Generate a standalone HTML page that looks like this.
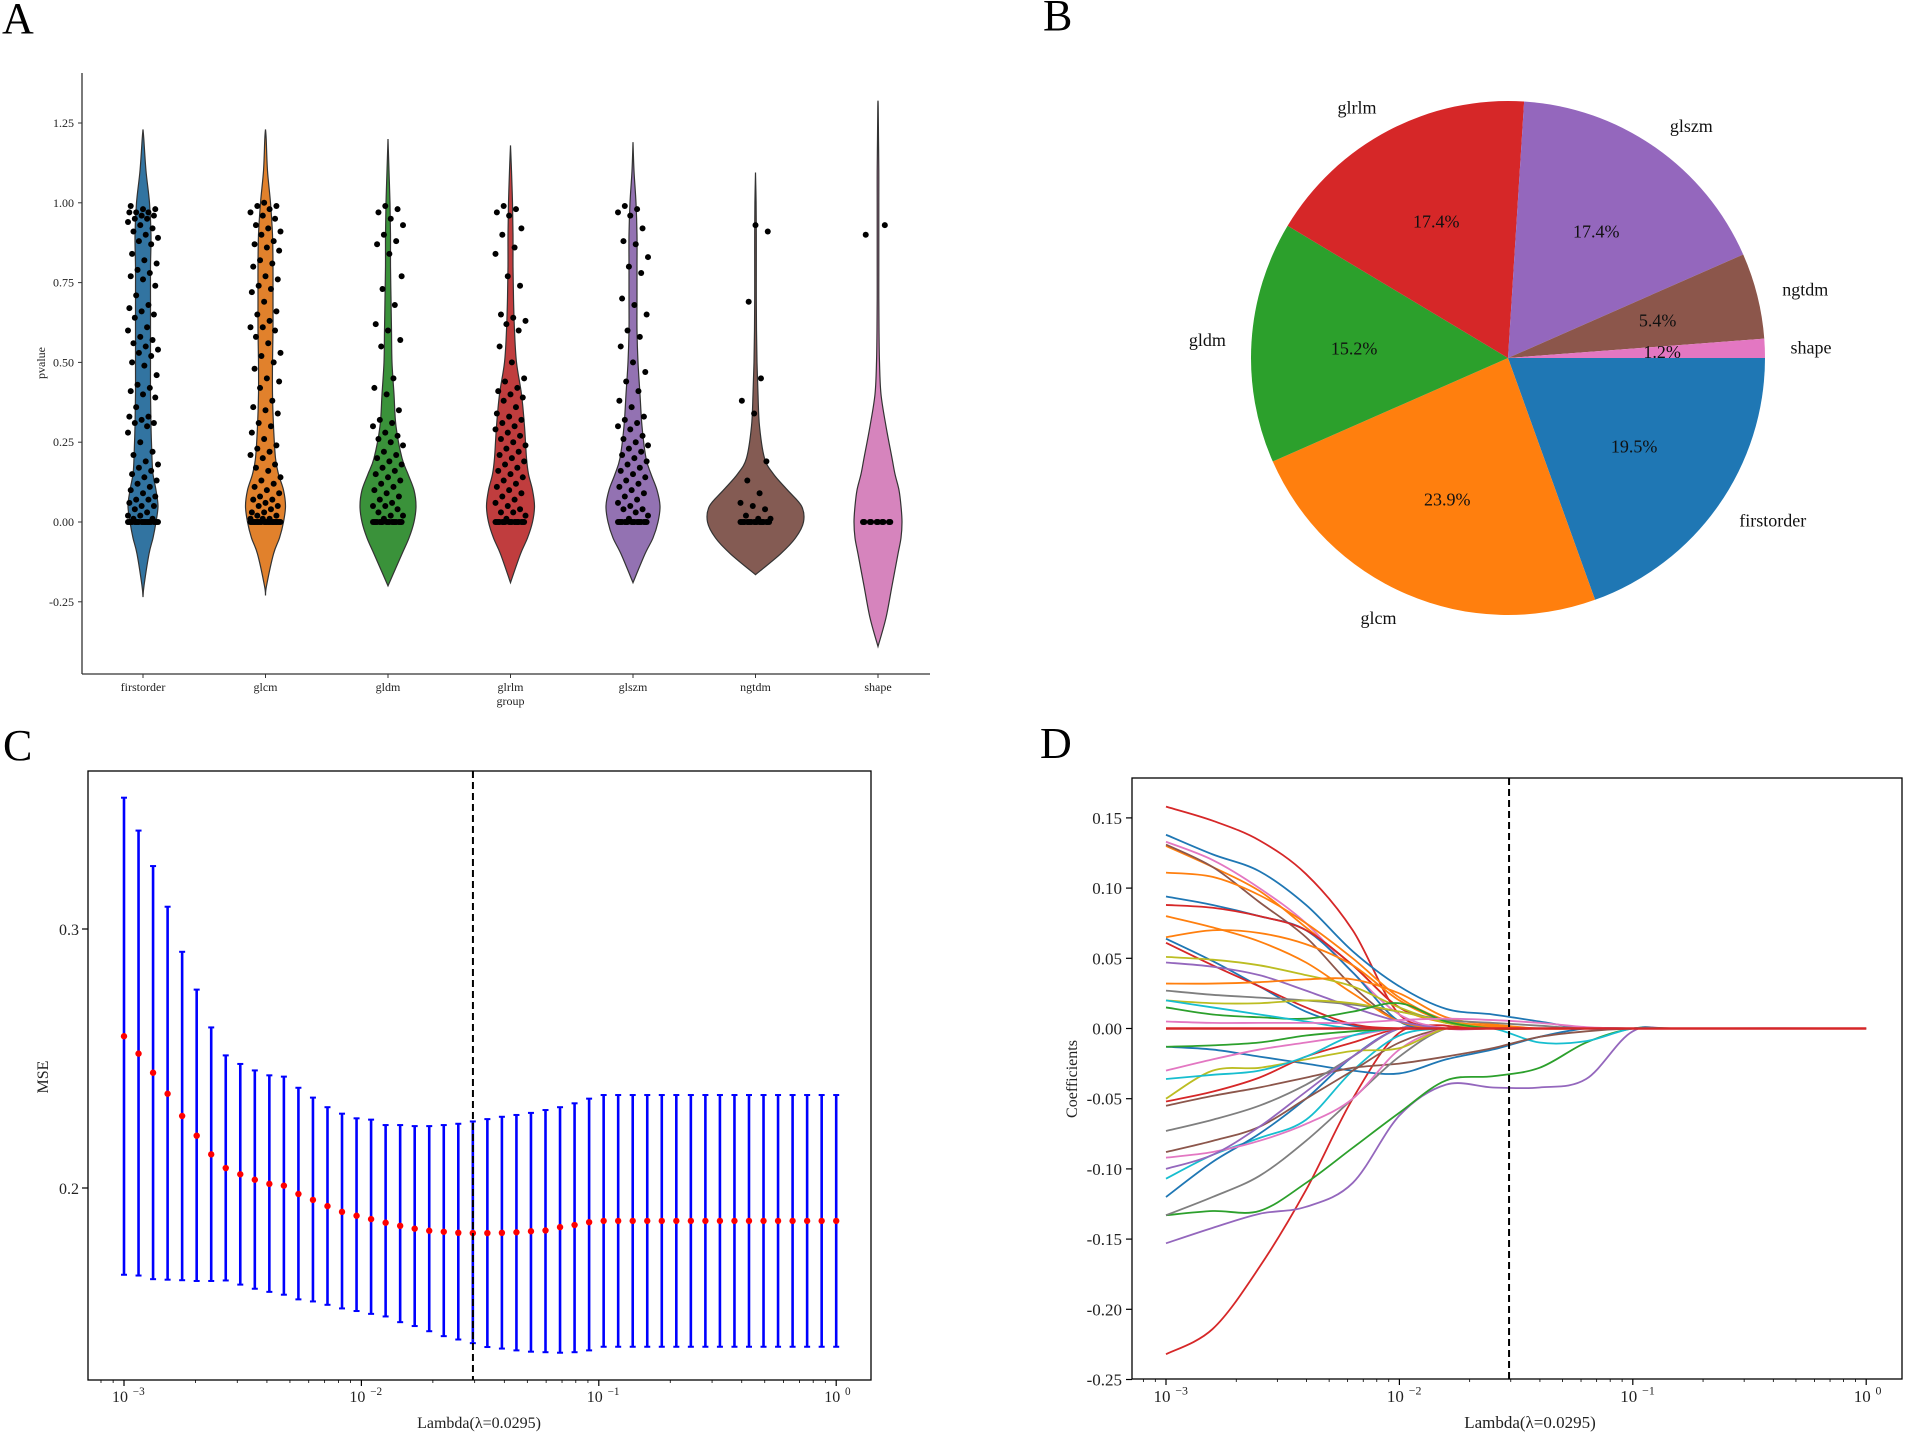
<!DOCTYPE html>
<html><head><meta charset="utf-8">
<style>
html,body{margin:0;padding:0;background:#fff;}
svg{display:block;font-family:"Liberation Serif",serif;}
</style></head>
<body>
<svg id="fig" width="1905" height="1434" viewBox="0 0 1905 1434" xmlns="http://www.w3.org/2000/svg">
<rect x="0" y="0" width="1905" height="1434" fill="#fff"/>
<text x="2" y="33" font-size="44">A</text>
<text x="1043" y="30" font-size="44">B</text>
<text x="3" y="760" font-size="44">C</text>
<text x="1040" y="758" font-size="44">D</text>
<g id="pa"></g>
<g id="pb"></g>
<g id="pc"></g>
<g id="pd"></g>
</svg>
<script>
// ---------- Panel A data ----------
const violinCats = ["firstorder","glcm","gldm","glrlm","glszm","ngtdm","shape"];
const violinColors = ["#3274a1","#e1812c","#3a923a","#c03d3e","#9372b2","#845b53","#d684bd"];
const densGrid = [-0.4,-0.3,-0.2,-0.1,-0.05,0,0.05,0.1,0.15,0.2,0.3,0.4,0.5,0.6,0.7,0.8,0.9,1.0,1.1,1.2,1.3];
const densFirstorder = [0,0,1,6,10,13,15,13,10,9,8,7.5,7.5,7.5,7.5,7.5,8,6.5,3,0.8,0];
const densGlcm = [0,0,1,8,14,18,20,18,13,10,8,7,7,7.5,7.5,7.5,7,5,2,0.7,0];
const densGldm = [0,0,0.5,14,21,26,28,26,20,14,8,6,4,3.5,3,2.5,2.5,2,1,0.3,0];
const densGlrlm = [0,0,0,10,17,22,24,22,18,16,14,11,6,4,3,2.5,2.5,2,1,0,0];
const densGlszm = [0,0,0,12,20,25,27,24,18,13,9,7,5,4,4,4,4,3,1,0,0];
const densNgtdm = [0,0,0,25,40,48,46,32,18,9,4,2.5,1.5,1,0.8,0.8,0.8,0.6,0.3,0,0];
const densShape = [0,8,14,20,23,24,23,21,17,14,8,3,1.5,1,0.8,0.8,0.8,0.8,0.8,0.5,0.2];
const violinLo = [-0.235,-0.23,-0.2,-0.19,-0.19,-0.165,-0.39];
const violinHi = [1.23,1.23,1.2,1.18,1.19,1.095,1.32];
const ptsFirstorder = [0,0,0,0,0,0,0,0,0,0,0,0,0,0,0,0,0,0,0,0,0.01,0.01,0.02,0.02,0.03,0.04,0.05,0.05,0.06,0.07,0.07,0.08,0.09,0.1,0.11,0.12,0.13,0.14,0.15,0.16,0.17,0.18,0.19,0.21,0.22,0.25,0.28,0.3,0.31,0.31,0.32,0.33,0.33,0.36,0.39,0.4,0.41,0.42,0.43,0.46,0.49,0.5,0.52,0.53,0.54,0.55,0.56,0.57,0.58,0.6,0.61,0.64,0.65,0.66,0.67,0.68,0.71,0.74,0.76,0.77,0.78,0.79,0.81,0.82,0.84,0.87,0.88,0.89,0.9,0.91,0.92,0.93,0.94,0.95,0.95,0.96,0.96,0.97,0.97,0.97,0.98,0.98,0.99];
const ptsGlcm = [0,0,0,0,0,0,0,0,0,0,0,0,0,0,0,0,0,0,0,0,0,0,0.01,0.01,0.01,0.02,0.02,0.03,0.03,0.04,0.05,0.05,0.06,0.07,0.07,0.08,0.09,0.1,0.11,0.12,0.13,0.14,0.16,0.17,0.18,0.2,0.21,0.22,0.23,0.24,0.26,0.28,0.3,0.31,0.34,0.35,0.36,0.38,0.42,0.44,0.45,0.48,0.5,0.52,0.53,0.56,0.58,0.6,0.61,0.61,0.63,0.65,0.66,0.69,0.72,0.73,0.74,0.76,0.77,0.8,0.81,0.82,0.85,0.86,0.87,0.88,0.9,0.91,0.92,0.93,0.95,0.96,0.97,0.98,0.99,0.99,1.0];
const ptsGldm = [0,0,0,0,0,0,0,0,0,0,0,0,0,0,0,0,0,0.01,0.02,0.02,0.03,0.04,0.05,0.05,0.06,0.07,0.08,0.09,0.1,0.11,0.12,0.13,0.14,0.15,0.16,0.17,0.18,0.19,0.2,0.21,0.22,0.24,0.25,0.26,0.27,0.28,0.3,0.31,0.32,0.35,0.4,0.42,0.45,0.55,0.57,0.6,0.62,0.68,0.73,0.77,0.84,0.87,0.88,0.9,0.93,0.95,0.97,0.98,0.99];
const ptsGlrlm = [0,0,0,0,0,0,0,0,0,0,0,0,0,0,0,0,0,0.01,0.02,0.03,0.03,0.04,0.05,0.06,0.07,0.08,0.09,0.1,0.11,0.12,0.13,0.14,0.15,0.16,0.17,0.18,0.19,0.2,0.21,0.22,0.23,0.24,0.25,0.26,0.27,0.28,0.29,0.3,0.31,0.32,0.33,0.34,0.36,0.38,0.39,0.4,0.41,0.42,0.44,0.45,0.5,0.55,0.6,0.62,0.63,0.64,0.65,0.74,0.77,0.84,0.86,0.9,0.92,0.96,0.97,0.98,0.99];
const ptsGlszm = [0,0,0,0,0,0,0,0,0,0,0,0,0,0,0,0,0,0.01,0.02,0.03,0.04,0.04,0.05,0.06,0.07,0.08,0.09,0.1,0.11,0.12,0.13,0.14,0.15,0.16,0.17,0.18,0.19,0.2,0.21,0.22,0.23,0.24,0.25,0.26,0.27,0.29,0.3,0.31,0.32,0.33,0.36,0.38,0.41,0.44,0.47,0.5,0.55,0.58,0.6,0.65,0.68,0.7,0.78,0.8,0.83,0.87,0.88,0.92,0.96,0.97,0.98,0.99];
const ptsNgtdm = [0,0,0,0,0,0,0,0,0,0,0,0,0,0,0,0,0,0,0.01,0.01,0.02,0.04,0.05,0.06,0.09,0.13,0.19,0.34,0.38,0.45,0.69,0.91,0.93];
const ptsShape = [0,0,0,0,0,0,0,0,0,0,0.9,0.93];
const yTicksA = [-0.25,0,0.25,0.5,0.75,1.0,1.25];
const yTickLabelsA = ["-0.25","0.00","0.25","0.50","0.75","1.00","1.25"];

// ---------- Panel B data ----------
const pieLabels = ["firstorder","glcm","gldm","glrlm","glszm","ngtdm","shape"];
const pieValues = [19.5,23.9,15.2,17.4,17.4,5.4,1.2];
const pieColors = ["#1f77b4","#ff7f0e","#2ca02c","#d62728","#9467bd","#8c564b","#e377c2"];

// ---------- Panel C data ----------
const mseMean = [0.2586,0.2519,0.2445,0.2364,0.2278,0.2202,0.2130,0.2077,0.2053,0.2032,0.2016,0.2009,0.1977,0.1954,0.1930,0.1908,0.1893,0.1880,0.1866,0.1854,0.1843,0.1835,0.1831,0.1827,0.1826,0.1826,0.1827,0.1829,0.1833,0.1836,0.1849,0.1857,0.1868,0.1873,0.1873,0.1873,0.1873,0.1873,0.1873,0.1873,0.1873,0.1873,0.1873,0.1873,0.1873,0.1873,0.1873,0.1873,0.1873,0.1873];
const mseUpper = [0.3507,0.3380,0.3243,0.3086,0.2912,0.2766,0.2620,0.2512,0.2479,0.2454,0.2435,0.2430,0.2387,0.2349,0.2312,0.2287,0.2269,0.2264,0.2243,0.2243,0.2239,0.2239,0.2243,0.2248,0.2257,0.2266,0.2275,0.2282,0.2290,0.2301,0.2312,0.2327,0.2345,0.2359,0.2359,0.2359,0.2359,0.2359,0.2359,0.2359,0.2359,0.2359,0.2359,0.2359,0.2359,0.2359,0.2359,0.2359,0.2359,0.2359];
const mseLower = [0.1665,0.1662,0.1648,0.1646,0.1644,0.1641,0.1641,0.1643,0.1627,0.1611,0.1599,0.1588,0.1570,0.1562,0.1549,0.1535,0.1525,0.1514,0.1504,0.1482,0.1467,0.1447,0.1428,0.1415,0.1401,0.1386,0.1380,0.1373,0.1368,0.1366,0.1364,0.1366,0.1373,0.1387,0.1387,0.1387,0.1387,0.1387,0.1387,0.1387,0.1387,0.1387,0.1387,0.1387,0.1387,0.1387,0.1387,0.1387,0.1387,0.1387];
const lambdaMin = 0.001, lambdaMax = 1;
const bestLambda = 0.0295;
const yTicksC = [0.2,0.3];
const yTickLabelsC = ["0.2","0.3"];
const xDecades = [-3,-2,-1,0];

// ---------- Panel D data ----------
const pathLogLambda = [-3,-2.8,-2.6,-2.4,-2.2,-2.0,-1.8,-1.6,-1.4,-1.2,-1.0,-0.8,0];
const pathColors = ["#d62728","#9467bd","#2ca02c","#17becf","#1f77b4","#1f77b4","#8c564b","#7f7f7f","#7f7f7f","#8c564b","#e377c2","#bcbd22","#d62728","#e377c2","#17becf","#2ca02c","#9467bd","#d62728","#1f77b4","#ff7f0e","#e377c2","#8c564b","#ff7f0e","#1f77b4","#d62728","#ff7f0e","#ff7f0e","#1f77b4","#d62728","#bcbd22","#9467bd","#ff7f0e","#7f7f7f","#bcbd22","#2ca02c","#17becf","#e377c2","#d62728"];
const pathCoefs = [
[-0.232,-0.214,-0.17,-0.115,-0.05,-0.003,0,0,0,0,0,0,0],
[-0.153,-0.142,-0.132,-0.127,-0.11,-0.062,-0.04,-0.042,-0.042,-0.036,-0.002,0,0],
[-0.133,-0.13,-0.13,-0.11,-0.085,-0.06,-0.037,-0.034,-0.028,-0.01,0,0,0],
[-0.107,-0.09,-0.078,-0.065,-0.03,-0.005,0,0,-0.01,-0.009,0,0,0],
[-0.12,-0.095,-0.075,-0.05,-0.02,0,0,0,0,0,0,0,0],
[-0.013,-0.015,-0.02,-0.025,-0.03,-0.032,-0.022,-0.015,-0.006,0,0,0,0],
[-0.055,-0.048,-0.042,-0.035,-0.028,-0.025,-0.02,-0.014,-0.006,-0.002,0,0,0],
[-0.133,-0.12,-0.105,-0.08,-0.05,-0.02,0,0,0,0,0,0,0],
[-0.073,-0.065,-0.055,-0.04,-0.02,0,0,0,0,0,0,0,0],
[-0.088,-0.08,-0.07,-0.05,-0.03,-0.01,0,0,0,0,0,0,0],
[-0.092,-0.088,-0.08,-0.068,-0.05,-0.015,0,0,0,0,0,0,0],
[-0.05,-0.03,-0.028,-0.022,-0.016,-0.014,0,0,0,0,0,0,0],
[-0.052,-0.045,-0.035,-0.02,-0.01,0,0,0,0,0,0,0,0],
[-0.03,-0.022,-0.015,-0.01,-0.005,0,0,0,0,0,0,0,0],
[-0.036,-0.033,-0.03,-0.02,-0.005,0,0,0,0,0,0,0,0],
[-0.013,-0.012,-0.01,-0.005,-0.002,0,0,0,0,0,0,0,0],
[-0.1,-0.09,-0.07,-0.045,-0.02,0,0,0,0,0,0,0,0],
[0.158,0.148,0.134,0.11,0.07,0.01,0.002,0,0,0,0,0,0],
[0.138,0.124,0.112,0.088,0.055,0.03,0.014,0.01,0.005,0,0,0,0],
[0.13,0.115,0.098,0.072,0.045,0.015,0.004,0.001,0,0,0,0,0],
[0.133,0.12,0.1,0.075,0.04,0.01,0,0,0,0,0,0,0],
[0.131,0.115,0.09,0.065,0.03,0.005,0,0,0,0,0,0,0],
[0.111,0.108,0.095,0.075,0.05,0.022,0.006,0.002,0,0,0,0,0],
[0.094,0.088,0.08,0.07,0.04,0.005,0,0,0,0,0,0,0],
[0.088,0.086,0.08,0.07,0.045,0.015,0.005,0,0,0,0,0,0],
[0.08,0.072,0.062,0.047,0.025,0.005,0,0,0,0,0,0,0],
[0.065,0.07,0.068,0.06,0.045,0.02,0.005,0,0,0,0,0,0],
[0.064,0.048,0.03,0.012,0.002,0,0,0,0,0,0,0,0],
[0.061,0.045,0.03,0.015,0.003,0,0,0,0,0,0,0,0],
[0.051,0.049,0.045,0.038,0.03,0.015,0.004,0,0,0,0,0,0],
[0.047,0.044,0.038,0.027,0.015,0.005,0,0,0,0,0,0,0],
[0.032,0.032,0.033,0.035,0.035,0.025,0.008,0.003,0,0,0,0,0],
[0.027,0.024,0.022,0.02,0.017,0.012,0.006,0.004,0.002,0,0,0,0],
[0.02,0.018,0.018,0.02,0.018,0.012,0.005,0,0,0,0,0,0],
[0.015,0.01,0.008,0.007,0.012,0.018,0.005,0,0,0,0,0,0],
[0.02,0.015,0.01,0.005,0,0,0,0,0,0,0,0,0],
[0.005,0.004,0.004,0.004,0.004,0.006,0.007,0.006,0.004,0.001,0,0,0],
[0,0,0,0,0,0,0,0,0,0,0,0,0]
];
const yTicksD = [-0.25,-0.2,-0.15,-0.1,-0.05,0,0.05,0.1,0.15];
const yTickLabelsD = ["-0.25","-0.20","-0.15","-0.10","-0.05","0.00","0.05","0.10","0.15"];

// ---------- helpers ----------
const NS = "http://www.w3.org/2000/svg";
function mk(parent, tag, attrs, text){
  const e = document.createElementNS(NS, tag);
  for (const k in attrs) e.setAttribute(k, attrs[k]);
  if (text !== undefined) e.textContent = text;
  parent.appendChild(e);
  return e;
}
function smoothPath(pts){
  let d = "M" + pts[0][0].toFixed(2) + "," + pts[0][1].toFixed(2);
  for (let i = 0; i < pts.length - 1; i++){
    const p0 = pts[Math.max(i-1,0)], p1 = pts[i], p2 = pts[i+1], p3 = pts[Math.min(i+2,pts.length-1)];
    const c1x = p1[0] + (p2[0]-p0[0])/6, c1y = p1[1] + (p2[1]-p0[1])/6;
    const c2x = p2[0] - (p3[0]-p1[0])/6, c2y = p2[1] - (p3[1]-p1[1])/6;
    d += " C" + c1x.toFixed(2)+","+c1y.toFixed(2)+" "+c2x.toFixed(2)+","+c2y.toFixed(2)+" "+p2[0].toFixed(2)+","+p2[1].toFixed(2);
  }
  return d;
}

// ---------- Panel A ----------
(function(){
  const g = document.getElementById("pa");
  const yA = v => 522 - v * 319.2;
  const xA = i => 143 + i * 122.5;
  const dens = [densFirstorder,densGlcm,densGldm,densGlrlm,densGlszm,densNgtdm,densShape];
  const pts = [ptsFirstorder,ptsGlcm,ptsGldm,ptsGlrlm,ptsGlszm,ptsNgtdm,ptsShape];
  let ax = mk(g,"line",{x1:82,y1:73,x2:82,y2:674,stroke:"#333","stroke-width":1.3});
  
  
  ax = mk(g,"line",{x1:82,y1:674,x2:930,y2:674,stroke:"#333","stroke-width":1.3});
  
  
  yTicksA.forEach((t,i)=>{
    mk(g,"line",{x1:78,y1:yA(t),x2:82,y2:yA(t),stroke:"#333","stroke-width":1});
    const tl = mk(g,"text",{x:74,y:yA(t)+4,"font-size":12,"text-anchor":"end",fill:"#222"},yTickLabelsA[i]);
    
    
  });
  violinCats.forEach((c,i)=>{
    const cx = xA(i);
    const prof = [[violinLo[i],0]];
    densGrid.forEach((v,k)=>{ if (v > violinLo[i] && v < violinHi[i]) prof.push([v, dens[i][k]]); });
    prof.push([violinHi[i],0]);
    const right = prof.map(p=>[cx + p[1], yA(p[0])]);
    const left = prof.slice().reverse().map(p=>[cx - p[1], yA(p[0])]);
    const d = smoothPath(right) + " L" + smoothPath(left).slice(1) + " Z";
    const v = mk(g,"path",{d:d,fill:violinColors[i],stroke:"#333","stroke-width":1.2});
    
    
    pts[i].forEach((p,j)=>{
      const jit = (((j*37) % 23) / 22 * 2 - 1) * 15;
      const dot = mk(g,"circle",{cx:cx + jit, cy:yA(p), r:3, fill:"#000"});
      
      
    });
    mk(g,"line",{x1:cx,y1:674,x2:cx,y2:678,stroke:"#333","stroke-width":1});
    const xl = mk(g,"text",{x:cx,y:691,"font-size":12,"text-anchor":"middle",fill:"#222"},c);
    
    
  });
  let t = mk(g,"text",{x:xA(3),y:705,"font-size":12,"text-anchor":"middle",fill:"#222"},"group");
  
  
  t = mk(g,"text",{x:0,y:0,"font-size":12,"text-anchor":"middle",fill:"#222",transform:"translate(45,363) rotate(-90)"},"pvalue");
  
  
})();

// ---------- Panel B ----------
(function(){
  const g = document.getElementById("pb");
  const cx = 1508, cy = 358, R = 257;
  const total = pieValues.reduce((a,b)=>a+b,0);
  let a0 = 0;
  pieValues.forEach((v,i)=>{
    const a1 = a0 + v/total*2*Math.PI;
    const x0 = cx + R*Math.cos(a0), y0 = cy + R*Math.sin(a0);
    const x1 = cx + R*Math.cos(a1), y1 = cy + R*Math.sin(a1);
    const large = (a1-a0) > Math.PI ? 1 : 0;
    const s = mk(g,"path",{d:`M${cx},${cy} L${x0},${y0} A${R},${R} 0 ${large} 1 ${x1},${y1} Z`, fill:pieColors[i]});
    
    
    const am = (a0+a1)/2;
    const lx = cx + 1.1*R*Math.cos(am), ly = cy + 1.1*R*Math.sin(am);
    const anchor = Math.cos(am) > 0.05 ? "start" : (Math.cos(am) < -0.05 ? "end" : "middle");
    const lt = mk(g,"text",{x:lx,y:ly+6,"font-size":18,"text-anchor":anchor,fill:"#111"},pieLabels[i]);
    
    
    const px = cx + 0.6*R*Math.cos(am), py = cy + 0.6*R*Math.sin(am);
    const pt = mk(g,"text",{x:px,y:py+6,"font-size":18,"text-anchor":"middle",fill:"#111"},v.toFixed(1)+"%");
    
    
    a0 = a1;
  });
})();

// ---------- log axis helper ----------
function logAxis(g, xf, yBottom, fontSize){
  xDecades.forEach(dd=>{
    mk(g,"line",{x1:xf(dd),y1:yBottom,x2:xf(dd),y2:yBottom+6,stroke:"#000","stroke-width":1.2});
    const t = mk(g,"text",{x:xf(dd)-4,y:yBottom+6+fontSize,"font-size":fontSize,"text-anchor":"middle",fill:"#222"},"10");
    
    
    mk(g,"text",{x:xf(dd)+fontSize*0.55,y:yBottom+6+fontSize*0.55,"font-size":fontSize*0.7,"text-anchor":"start",fill:"#222"}, dd===0 ? "0" : "\u2212"+(-dd));
  });
  for (let dd = -4; dd <= 0; dd++){
    for (let m = 2; m <= 9; m++){
      const lv = dd + Math.log10(m);
      const x = xf(lv);
      if (lv > -3.15 && lv < 0.15) mk(g,"line",{x1:x,y1:yBottom,x2:x,y2:yBottom+3,stroke:"#000","stroke-width":0.8});
    }
  }
}

// ---------- Panel C ----------
(function(){
  const g = document.getElementById("pc");
  const xC = lg => 124 + (lg + 3) * 237.4;
  const yC = v => 1188 - (v - 0.2) * 2590;
  const n = mseMean.length;
  const step = (Math.log10(lambdaMax) - Math.log10(lambdaMin)) / (n - 1);
  for (let i = 0; i < n; i++){
    const lg = Math.log10(lambdaMin) + i*step;
    const x = xC(lg);
    const b = mk(g,"line",{x1:x,y1:yC(mseUpper[i]),x2:x,y2:yC(mseLower[i]),stroke:"#0000ff","stroke-width":2.6});
    
    
    mk(g,"line",{x1:x-3,y1:yC(mseUpper[i]),x2:x+3,y2:yC(mseUpper[i]),stroke:"#0000ff","stroke-width":2});
    mk(g,"line",{x1:x-3,y1:yC(mseLower[i]),x2:x+3,y2:yC(mseLower[i]),stroke:"#0000ff","stroke-width":2});
  }
  for (let i = 0; i < n; i++){
    const lg = Math.log10(lambdaMin) + i*step;
    const m = mk(g,"circle",{cx:xC(lg),cy:yC(mseMean[i]),r:3.2,fill:"#ff0000"});
    
    
  }
  const dl = mk(g,"line",{x1:xC(Math.log10(bestLambda)),y1:771,x2:xC(Math.log10(bestLambda)),y2:1380,stroke:"#000","stroke-width":2,"stroke-dasharray":"7,4"});
  
  
  const box = mk(g,"rect",{x:88,y:771,width:783,height:609,fill:"none",stroke:"#000","stroke-width":1.3});
  
  
  yTicksC.forEach((t,i)=>{
    mk(g,"line",{x1:82,y1:yC(t),x2:88,y2:yC(t),stroke:"#000","stroke-width":1.2});
    const tl = mk(g,"text",{x:79,y:yC(t)+6,"font-size":16,"text-anchor":"end",fill:"#222"},yTickLabelsC[i]);
    
    
  });
  logAxis(g, xC, 1380, 16);
  let t = mk(g,"text",{x:479,y:1428,"font-size":16,"text-anchor":"middle",fill:"#222"},"Lambda(\u03bb=0.0295)");
  
  
  t = mk(g,"text",{x:0,y:0,"font-size":16,"text-anchor":"middle",fill:"#222",transform:"translate(48,1077) rotate(-90)"},"MSE");
  
  
})();

// ---------- Panel D ----------
(function(){
  const g = document.getElementById("pd");
  const xD = lg => 1166 + (lg + 3) * 233.4;
  const yD = v => 1028.5 - v * 1404;
  pathCoefs.forEach((s,i)=>{
    const pts = s.map((v,k)=>[xD(pathLogLambda[k]), yD(v)]);
    const p = mk(g,"path",{d:smoothPath(pts),fill:"none",stroke:pathColors[i],"stroke-width":i===pathCoefs.length-1?2.4:1.8,"stroke-linejoin":"round"});
    
    
  });
  const dl = mk(g,"line",{x1:xD(Math.log10(bestLambda)),y1:778,x2:xD(Math.log10(bestLambda)),y2:1379,stroke:"#000","stroke-width":2,"stroke-dasharray":"7,4"});
  
  
  const box = mk(g,"rect",{x:1132,y:778,width:770,height:601,fill:"none",stroke:"#000","stroke-width":1.3});
  
  
  yTicksD.forEach((t,i)=>{
    mk(g,"line",{x1:1126,y1:yD(t),x2:1132,y2:yD(t),stroke:"#000","stroke-width":1.2});
    const tl = mk(g,"text",{x:1122,y:yD(t)+6,"font-size":17,"text-anchor":"end",fill:"#222"},yTickLabelsD[i]);
    
    
  });
  logAxis(g, xD, 1379, 17);
  let t = mk(g,"text",{x:1530,y:1428,"font-size":17,"text-anchor":"middle",fill:"#222"},"Lambda(\u03bb=0.0295)");
  
  
  t = mk(g,"text",{x:0,y:0,"font-size":16,"text-anchor":"middle",fill:"#222",transform:"translate(1077,1079) rotate(-90)"},"Coefficients");
  
  
})();
</script>
</body></html>
